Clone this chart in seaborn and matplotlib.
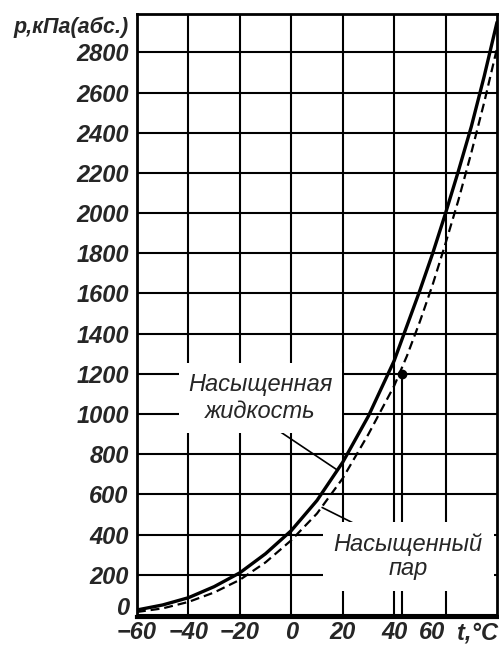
import matplotlib
matplotlib.use("Agg")
import matplotlib.pyplot as plt
import seaborn as sns

# Давление насыщения, кПа (абс.) в зависимости от температуры, °C
t_liquid = [-60, -50, -40, -30, -20, -10, 0, 10, 20, 30, 40, 45, 50, 55, 60, 65, 70, 75, 80]
p_liquid = [25, 50, 86, 141, 210, 305, 420, 570, 760, 990, 1265, 1440, 1615, 1800, 2000, 2210, 2430, 2680, 2950]

t_vapor = [-60, -50, -40, -30, -20, -10, 0, 10, 20, 30, 40, 45, 50, 55, 60, 65, 70, 75, 80]
p_vapor = [15, 33, 65, 112, 175, 262, 372, 505, 680, 900, 1140, 1290, 1460, 1645, 1850, 2065, 2300, 2550, 2820]

# отмеченная точка
point_t = 43
point_p = 1200

x_ticks = [-60, -40, -20, 0, 20, 40, 60]
y_ticks = [0, 200, 400, 600, 800, 1000, 1200, 1400, 1600, 1800, 2000, 2200, 2400, 2600, 2800]

sns.set_style("white")
plt.rcParams['font.family'] = ['Liberation Sans Narrow', 'Liberation Sans', 'DejaVu Sans']

fig = plt.figure(figsize=(4.99, 6.45), dpi=100)
ax = fig.add_axes([0.2745, 0.0434, 0.7215, 0.9346])

sns.lineplot(x=t_liquid, y=p_liquid, ax=ax, color='black', lw=2.4, zorder=3)
sns.lineplot(x=t_vapor, y=p_vapor, ax=ax, color='black', lw=1.6, linestyle=(0, (4, 2.2)), zorder=3)

ax.vlines(point_t, -10, point_p, color='black', lw=1.5, zorder=2)
ax.plot([point_t], [point_p], 'o', color='black', ms=6, zorder=4)

ax.set_xlim(-60, 80)
ax.set_ylim(-10, 2990)
ax.set_xticks(x_ticks)
ax.set_yticks(y_ticks)
ax.set_xticklabels([f"\u2212{abs(v)}" if v < 0 else str(v) for v in x_ticks])
ax.grid(True, color='black', lw=1.5)
ax.set_axisbelow(True)
ax.tick_params(length=0, labelsize=17)
ax.tick_params(axis='y', pad=6)
ax.tick_params(axis='x', pad=3)
for lab in ax.get_xticklabels() + ax.get_yticklabels():
    lab.set_fontstyle('italic')
    lab.set_fontweight('bold')
ax.get_xticklabels()[-1].set_ha('right')
ax.get_yticklabels()[0].set_va('baseline')

for s in ax.spines.values():
    s.set_color('black')
    s.set_linewidth(2)
ax.spines['bottom'].set_linewidth(3)

ax.set_xlabel("")
ax.set_ylabel("")
fig.text(0.257, 0.958, "p,кПа(абс.)", ha='right', va='center', fontsize=15.5,
         style='italic', weight='bold')
fig.text(0.997, 0.018, "t,°C", ha='right', va='center', fontsize=17,
         style='italic', weight='bold')

# подписи кривых
ax.text(-12, 1080, "Насыщенная\nжидкость", ha='center', va='center', fontsize=17,
        style='italic', family=['Liberation Sans', 'DejaVu Sans'], linespacing=1.25,
        bbox=dict(fc='white', ec='none', pad=7), zorder=5)
ax.plot([-7, 17.5], [935, 725], color='black', lw=1.2, zorder=3)

ax.text(45.5, 290, "Насыщенный\nпар", ha='center', va='center', fontsize=17,
        style='italic', family=['Liberation Sans', 'DejaVu Sans'], linespacing=1.05,
        bbox=dict(fc='white', ec='none', pad=8), zorder=5)
ax.plot([30, 12], [420, 535], color='black', lw=1.2, zorder=3)

fig.savefig("out.png", dpi=100)
